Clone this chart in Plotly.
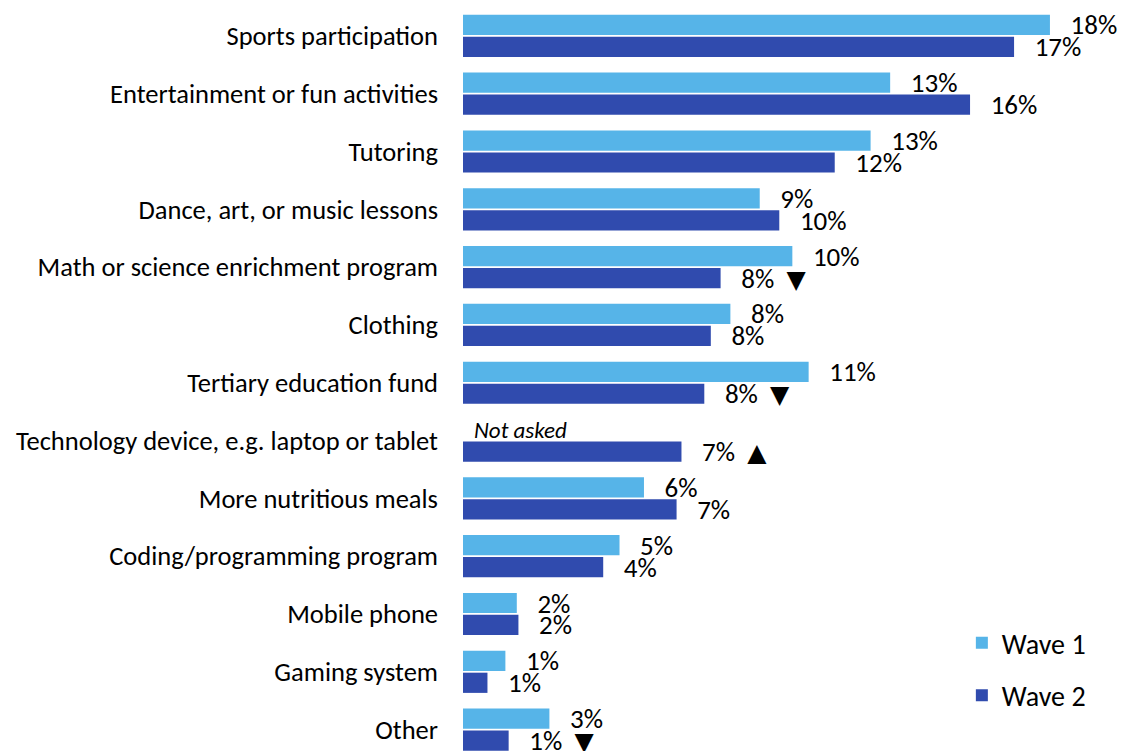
import plotly.graph_objects as go

categories = [
    "Sports participation",
    "Entertainment or fun activities",
    "Tutoring",
    "Dance, art, or music lessons",
    "Math or science enrichment program",
    "Clothing",
    "Tertiary education fund",
    "Technology device, e.g. laptop or tablet",
    "More nutritious meals",
    "Coding/programming program",
    "Mobile phone",
    "Gaming system",
    "Other",
]

wave1_values = [18.0, 13.1, 12.5, 9.1, 10.1, 8.2, 10.6, None, 5.55, 4.8, 1.65, 1.3, 2.65]
wave2_values = [16.9, 15.55, 11.4, 9.7, 7.9, 7.6, 7.4, 6.7, 6.55, 4.3, 1.7, 0.75, 1.4]

wave1_labels = ["18%", "13%", "13%", "9%", "10%", "8%", "11%", "", "6%", "5%", "2%", "1%", "3%"]
wave2_labels = ["17%", "16%", "12%", "10%", "8%", "8%", "8%", "7%", "7%", "4%", "2%", "1%", "1%"]
wave2_change = ["", "", "", "", "▼", "", "▼", "▲", "", "", "", "", "▼"]

W1_COLOR = "#56B4E8"
W2_COLOR = "#304BAE"
FONT = "Calibri, Carlito, Lato, sans-serif"
PAD = "\u00a0\u00a0\u2009"


def make_text(labels, changes=None):
    out = []
    for i, lab in enumerate(labels):
        if not lab:
            out.append("")
            continue
        t = PAD + lab
        if changes and changes[i]:
            t += ("\u00a0\u00a0<span style='font-family:DejaVu Sans;font-size:25px'>"
                  + changes[i] + "</span>")
        out.append(t)
    return out


fig = go.Figure()
fig.add_trace(go.Bar(
    name="Wave 1", y=categories, x=wave1_values, orientation="h",
    marker=dict(color=W1_COLOR, line=dict(width=0)),
    text=make_text(wave1_labels), textposition="outside",
    textfont=dict(family=FONT, size=27, color="black"),
    constraintext="none", cliponaxis=False, legendgroup="w1",
    hoverinfo="skip",
))
fig.add_trace(go.Bar(
    name="Wave 2", y=categories, x=wave2_values, orientation="h",
    marker=dict(color=W2_COLOR, line=dict(width=0)),
    text=make_text(wave2_labels, wave2_change), textposition="outside",
    textfont=dict(family=FONT, size=27, color="black"),
    constraintext="none", cliponaxis=False, legendgroup="w2",
    hoverinfo="skip",
))

fig.add_annotation(
    x=0, y="Technology device, e.g. laptop or tablet", xref="x", yref="y",
    text="<i>Not asked</i>", showarrow=False, xanchor="left", yanchor="middle",
    xshift=9, yshift=11, font=dict(family=FONT, size=23, color="black"),
)

fig.update_layout(
    width=1122, height=751,
    margin=dict(l=463, r=0, t=7, b=0),
    paper_bgcolor="white", plot_bgcolor="white",
    barmode="group", bargap=0.24, bargroupgap=0.08,
    font=dict(family=FONT, size=24, color="black"),
    xaxis=dict(range=[0, 20.21], visible=False, showgrid=False, zeroline=False),
    yaxis=dict(
        type="category", categoryorder="array", categoryarray=categories,
        range=[12.37, -0.5], showgrid=False, zeroline=False, showline=False,
        ticks="", ticklabelstandoff=24,
        tickfont=dict(family=FONT, size=26.5, color="black"),
    ),
    legend=dict(
        x=0.757, y=0.11, xanchor="left", yanchor="middle",
        traceorder="grouped", tracegroupgap=13,
        font=dict(family=FONT, size=28, color="black"),
        bgcolor="rgba(0,0,0,0)", itemclick=False,
    ),
    showlegend=True,
)

fig.write_html(
    "out.html",
    config={"displayModeBar": False},
    post_script="document.body.style.margin='0';document.body.style.overflow='hidden';",
)
